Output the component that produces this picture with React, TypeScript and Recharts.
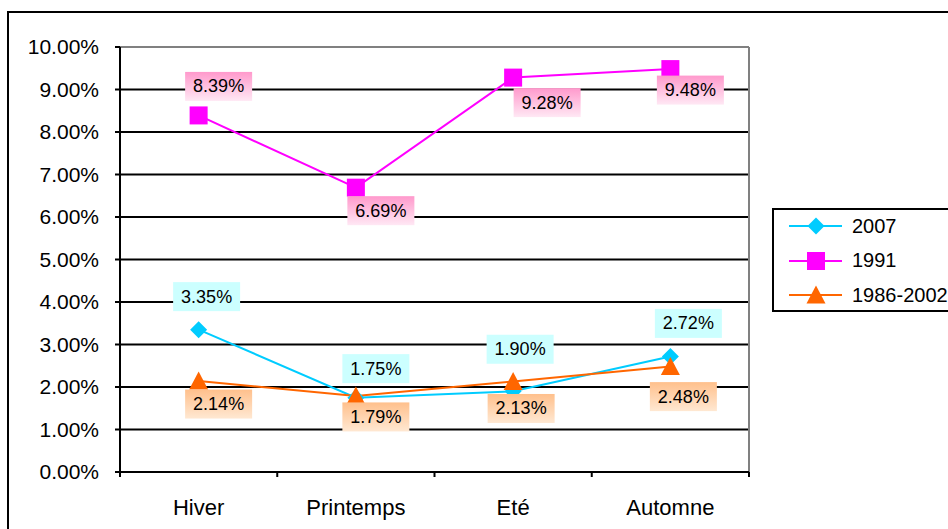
import React from "react";
import {
  LineChart,
  Line,
  XAxis,
  YAxis,
  CartesianGrid,
  ReferenceLine,
  LabelList,
} from "recharts";

const seasons = ["Hiver", "Printemps", "Eté", "Automne"];
const values2007 = [3.35, 1.75, 1.9, 2.72];
const values1991 = [8.39, 6.69, 9.28, 9.48];
const values8602 = [2.14, 1.79, 2.13, 2.48];
const yTicks = [0, 1, 2, 3, 4, 5, 6, 7, 8, 9, 10];

// label box offsets from the point (dx, dy), as placed in the original
const off2007 = [[8, -33], [20, -29], [7, -42], [18, -33]];
const off1991 = [[20, -29], [25, 23], [34, 25], [20, 21]];
const off8602 = [[20, 23], [20, 21], [8, 27], [13, 30]];

const data = seasons.map((s, i) => ({
  season: s,
  v2007: values2007[i],
  v1991: values1991[i],
  v8602: values8602[i],
}));

const W = 948;
const H = 529;
const LEFT = 120;
const RIGHT = 749;
const TOP = 47;
const BOTTOM = 472;
const FONT = "'Liberation Sans', Arial, sans-serif";
const BAND = (RIGHT - LEFT) / seasons.length;

const fmt = (v: number) => v.toFixed(2) + "%";

function Diamond({ cx, cy, color }: any) {
  const r = 8.5;
  return (
    <polygon
      points={`${cx},${cy - r} ${cx + r},${cy} ${cx},${cy + r} ${cx - r},${cy}`}
      fill={color}
    />
  );
}

function Square({ cx, cy, color }: any) {
  return <rect x={cx - 9} y={cy - 9} width={18} height={18} fill={color} />;
}

function Triangle({ cx, cy, color }: any) {
  return (
    <polygon
      points={`${cx},${cy - 9.5} ${cx + 9.5},${cy + 8.5} ${cx - 9.5},${cy + 8.5}`}
      fill={color}
    />
  );
}

const series = [
  { key: "v2007", name: "2007", color: "#00CCFF", Marker: Diamond, offs: off2007, bg: "#CCFFFF" },
  { key: "v1991", name: "1991", color: "#FF00FF", Marker: Square, offs: off1991, bg: "url(#gPink)" },
  { key: "v8602", name: "1986-2002", color: "#FF6600", Marker: Triangle, offs: off8602, bg: "url(#gOrange)" },
];

function makeLabel(offs: number[][], bg: string) {
  return (props: any) => {
    const { x, y, value, index } = props;
    const [dx, dy] = offs[index] || [0, 0];
    const cx = x + dx;
    const cy = y + dy;
    return (
      <g>
        <rect x={cx - 33.5} y={cy - 14.5} width={67} height={29} fill={bg} />
        <text
          x={cx}
          y={cy + 6}
          textAnchor="middle"
          fontSize={18}
          fontFamily={FONT}
          fill="#000"
        >
          {fmt(value)}
        </text>
      </g>
    );
  };
}

function SeasonTick(props: any) {
  const { x, y, payload, index } = props;
  return (
    <g>
      <line x1={x - BAND / 2} x2={x - BAND / 2} y1={y} y2={y + 5} stroke="#000" strokeWidth={2} />
      {index === seasons.length - 1 && (
        <line x1={x + BAND / 2} x2={x + BAND / 2} y1={y} y2={y + 5} stroke="#000" strokeWidth={2} />
      )}
      <text x={x} y={y + 43} textAnchor="middle" fontSize={22} fontFamily={FONT} fill="#000">
        {payload.value}
      </text>
    </g>
  );
}

function LegendBox() {
  return (
    <div
      style={{
        position: "absolute",
        left: 772,
        top: 208,
        width: 220,
        height: 100,
        border: "2px solid #000",
        background: "#fff",
        fontFamily: FONT,
        fontSize: 20,
      }}
    >
      {series.map((s, i) => (
        <div
          key={s.key}
          style={{ position: "absolute", left: 0, top: 3 + i * 34.5, height: 26, display: "flex", alignItems: "center" }}
        >
          <svg width={76} height={26} style={{ display: "block" }}>
            <line x1={15} x2={68} y1={13} y2={13} stroke={s.color} strokeWidth={2} />
            <s.Marker cx={42} cy={13} color={s.color} />
          </svg>
          <span style={{ marginLeft: 2 }}>{s.name}</span>
        </div>
      ))}
    </div>
  );
}

export default function App() {
  return (
    <div style={{ position: "absolute", left: 0, top: 0, width: W, height: H, overflow: "hidden", background: "#fff" }}>
      <div
        style={{
          position: "absolute",
          left: 7,
          top: 11,
          width: 1000,
          height: 600,
          border: "2px solid #000",
        }}
      />
      <div style={{ position: "absolute", left: 0, top: 0 }}>
        <LineChart
          width={W}
          height={H}
          data={data}
          margin={{ top: TOP, right: W - RIGHT, left: 0, bottom: 0 }}
        >
          <defs>
            <linearGradient id="gPink" x1="0" y1="0" x2="0" y2="1">
              <stop offset="0%" stopColor="#FF99CC" />
              <stop offset="100%" stopColor="#FFE8F4" />
            </linearGradient>
            <linearGradient id="gOrange" x1="0" y1="0" x2="0" y2="1">
              <stop offset="0%" stopColor="#FFC08C" />
              <stop offset="100%" stopColor="#FFE8D2" />
            </linearGradient>
          </defs>
          <CartesianGrid vertical={false} stroke="#000" strokeWidth={2} />
          <CartesianGrid horizontal={false} verticalPoints={[RIGHT]} stroke="#808080" strokeWidth={2} />
          <ReferenceLine y={10} stroke="#808080" strokeWidth={2} />
          <XAxis
            dataKey="season"
            height={H - BOTTOM}
            padding={{ left: BAND / 2, right: BAND / 2 }}
            tickLine={false}
            tickSize={0}
            tickMargin={0}
            axisLine={{ stroke: "#000", strokeWidth: 2 }}
            tick={<SeasonTick />}
            interval={0}
          />
          <YAxis
            width={LEFT}
            domain={[0, 10]}
            ticks={yTicks}
            tickFormatter={fmt}
            tickSize={5}
            tickMargin={16}
            tickLine={{ stroke: "#000", strokeWidth: 2 }}
            axisLine={{ stroke: "#000", strokeWidth: 2 }}
            tick={{ fill: "#000", fontSize: 21, fontFamily: FONT }}
          />
          {series.map((s) => (
            <Line
              key={s.key}
              dataKey={s.key}
              name={s.name}
              type="linear"
              stroke={s.color}
              strokeWidth={2}
              isAnimationActive={false}
              dot={(p: any) => <s.Marker key={p.index} cx={p.cx} cy={p.cy} color={s.color} />}
              activeDot={false}
            >
              <LabelList dataKey={s.key} content={makeLabel(s.offs, s.bg)} />
            </Line>
          ))}
        </LineChart>
      </div>
      <LegendBox />
    </div>
  );
}
